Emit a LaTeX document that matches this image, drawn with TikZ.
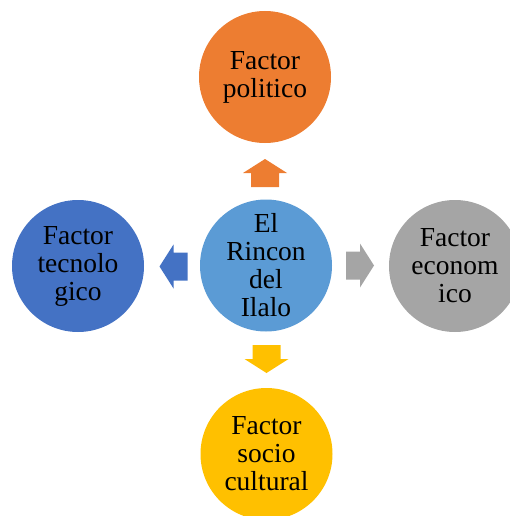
\documentclass[tikz,border=0pt]{standalone}
\usepackage{fontspec}
\setmainfont{Liberation Serif}
\definecolor{corange}{HTML}{ED7D31}
\definecolor{cblue}{HTML}{5B9BD5}
\definecolor{cdblue}{HTML}{4472C4}
\definecolor{cgray}{HTML}{A5A5A5}
\definecolor{cyellow}{HTML}{FFC000}
\tikzset{
  bubble/.style={circle, minimum size=132pt, inner sep=0pt, align=center,
    font=\fontsize{27.5}{28}\selectfont, text=black},
}
\newcommand{\uparr}[3]{% color, center x, tip y
  \fill[#1] (#2,#3) -- (#2+22,#3+14) -- (#2+14,#3+14) -- (#2+14,#3+28)
    -- (#2-14,#3+28) -- (#2-14,#3+14) -- (#2-22,#3+14) -- cycle;}
\newcommand{\downarr}[3]{% color, center x, tip y
  \fill[#1] (#2,#3) -- (#2+22,#3-14) -- (#2+14,#3-14) -- (#2+14,#3-28)
    -- (#2-14,#3-28) -- (#2-14,#3-14) -- (#2-22,#3-14) -- cycle;}
\newcommand{\leftarr}[3]{% color, tip x, center y
  \fill[#1] (#2,#3) -- (#2+14,#3-22) -- (#2+14,#3-14) -- (#2+28,#3-14)
    -- (#2+28,#3+14) -- (#2+14,#3+14) -- (#2+14,#3+22) -- cycle;}
\newcommand{\rightarr}[3]{% color, tip x, center y
  \fill[#1] (#2,#3) -- (#2-14,#3-22) -- (#2-14,#3-14) -- (#2-28,#3-14)
    -- (#2-28,#3+14) -- (#2-14,#3+14) -- (#2-14,#3+22) -- cycle;}
\begin{document}
\begin{tikzpicture}[x=1pt,y=-1pt]
\useasboundingbox (0,0) rectangle (510,516);
\clip (0,0) rectangle (510,516);
\node[bubble, fill=corange] (pol) at (265,77) {Factor\\politico};
\node[bubble, fill=cblue] (mid) at (266,265.5) {El\\Rincon\\del\\Ilalo};
\node[bubble, fill=cdblue] (tec) at (78,266) {Factor\\tecnolo\\gico};
\node[bubble, fill=cgray] (eco) at (455,266) {Factor\\econom\\ico};
\node[bubble, fill=cyellow] (soc) at (266.5,454) {Factor\\socio\\cultural};
\uparr{corange}{265}{159}
\downarr{cyellow}{266.5}{373}
\leftarr{cdblue}{159.5}{266.5}
\rightarr{cgray}{374}{265.5}
\end{tikzpicture}
\end{document}
